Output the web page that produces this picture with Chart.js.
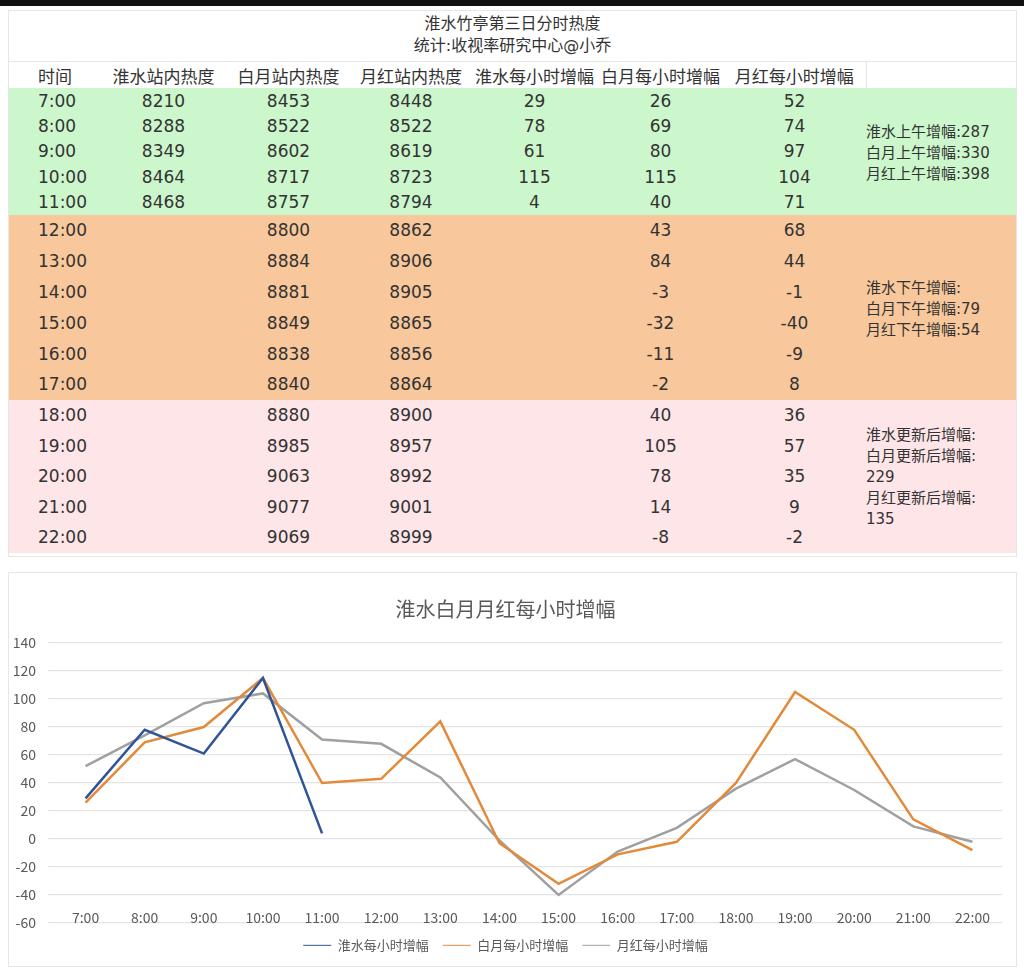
<!DOCTYPE html>
<html>
<head>
<meta charset="utf-8">
<script src="https://cdn.jsdelivr.net/npm/chart.js@4.4.1/dist/chart.umd.min.js"></script>
<style>
  html, body { margin: 0; padding: 0; background: #fff; }
  body { width: 1024px; height: 972px; position: relative; overflow: hidden;
         font-family: "DejaVu Sans", "Noto Sans CJK SC", sans-serif; color: #333; }
  #topbar { position: absolute; left: 0; top: 0; width: 1024px; height: 6px; background: #111; }
  #tableCard { position: absolute; left: 8px; top: 10px; width: 1007px; height: 545px;
               border: 1px solid #e6e6e6; background: #fff; }
  #heading { height: 48px; text-align: center; font-size: 16px; line-height: 22px; padding-top: 2px;
             border-bottom: 1px solid #e8e8e8; }
  table { border-collapse: collapse; width: 1007px; table-layout: fixed; font-size: 17px; }
  th { font-weight: normal; height: 26px; padding: 0; white-space: nowrap; }
  th.sep { border-right: 1px solid #e4e4e4; }
  td { padding: 0; text-align: center; white-space: nowrap; line-height: 20px; }
  td.t, th.t { text-align: left; padding-left: 29px; }
  tr.g td { background: #ccf7cc; height: 25.4px; }
  tr.o td { background: #f8c79b; height: 30.8px; }
  tr.p td { background: #fde5e8; height: 30.6px; }
  td.note { text-align: left; vertical-align: middle; font-size: 15px; line-height: 21px; padding-left: 0; }
  #chartCard { position: absolute; left: 8px; top: 572px; width: 1007px; height: 393px;
               border: 1px solid #e6e6e6; background: #fff; }
</style>
</head>
<body>
<div id="topbar"></div>
<div id="tableCard">
  <div id="heading">淮水竹亭第三日分时热度<br>统计:收视率研究中心@小乔</div>
  <table id="tbl"></table>
</div>
<div id="chartCard"><canvas id="myChart"></canvas></div>
<script>
// table + chart data
var headers = ['时间', '淮水站内热度', '白月站内热度', '月红站内热度', '淮水每小时增幅', '白月每小时增幅', '月红每小时增幅', ''];
var times = ['7:00', '8:00', '9:00', '10:00', '11:00', '12:00', '13:00', '14:00', '15:00', '16:00', '17:00', '18:00', '19:00', '20:00', '21:00', '22:00'];
var huaishuiHeat = [8210, 8288, 8349, 8464, 8468];
var baiyueHeat = [8453, 8522, 8602, 8717, 8757, 8800, 8884, 8881, 8849, 8838, 8840, 8880, 8985, 9063, 9077, 9069];
var yuehongHeat = [8448, 8522, 8619, 8723, 8794, 8862, 8906, 8905, 8865, 8856, 8864, 8900, 8957, 8992, 9001, 8999];
var huaishuiGain = [29, 78, 61, 115, 4];
var baiyueGain = [26, 69, 80, 115, 40, 43, 84, -3, -32, -11, -2, 40, 105, 78, 14, -8];
var yuehongGain = [52, 74, 97, 104, 71, 68, 44, -1, -40, -9, 8, 36, 57, 35, 9, -2];
var morningNotes = ['淮水上午增幅:287', '白月上午增幅:330', '月红上午增幅:398'];
var afternoonNotes = ['淮水下午增幅:', '白月下午增幅:79', '月红下午增幅:54'];
var eveningNotes = ['淮水更新后增幅:', '白月更新后增幅:', '229', '月红更新后增幅:', '135'];
var chartTitle = '淮水白月月红每小时增幅';
var seriesNames = ['淮水每小时增幅', '白月每小时增幅', '月红每小时增幅'];
var yTicks = [-60, -40, -20, 0, 20, 40, 60, 80, 100, 120, 140];

// build the table
var colWidths = [92, 125, 125, 120, 127, 125, 143, 150];
var html = '<colgroup>';
colWidths.forEach(function(w){ html += '<col style="width:' + w + 'px">'; });
html += '</colgroup><tr>';
headers.forEach(function(h, i){
  var c = i == 0 ? ' class="t"' : (i == 6 ? ' class="sep"' : '');
  html += '<th' + c + '>' + h + '</th>';
});
html += '</tr>';
function v(x){ return x === undefined ? '' : x; }
for (var i = 0; i < times.length; i++) {
  var cls = i < 5 ? 'g' : (i < 11 ? 'o' : 'p');
  html += '<tr class="' + cls + '">';
  html += '<td class="t">' + times[i] + '</td>';
  html += '<td>' + v(huaishuiHeat[i]) + '</td>';
  html += '<td>' + baiyueHeat[i] + '</td>';
  html += '<td>' + yuehongHeat[i] + '</td>';
  html += '<td>' + v(huaishuiGain[i]) + '</td>';
  html += '<td>' + baiyueGain[i] + '</td>';
  html += '<td>' + yuehongGain[i] + '</td>';
  if (i == 0) html += '<td class="note" rowspan="5" style="padding-top:5px">' + morningNotes.join('<br>') + '</td>';
  if (i == 5) html += '<td class="note" rowspan="6" style="padding-top:4px">' + afternoonNotes.join('<br>') + '</td>';
  if (i == 11) html += '<td class="note" rowspan="5" style="padding-top:2px">' + eveningNotes.join('<br>') + '</td>';
  html += '</tr>';
}
document.getElementById('tbl').innerHTML = html;

// push the legend down below the in-plot category labels
var legendShift = {
  id: 'legendShift',
  afterLayout: function(chart){
    chart.legend.top += 21;
    chart.legend.bottom += 21;
  }
};

// chart
var ctx = document.getElementById('myChart').getContext('2d');
var chart = new Chart(ctx, {
  type: 'line',
  data: {
    labels: times,
    datasets: [{
      label: seriesNames[0],
      data: huaishuiGain,
      borderColor: '#2f5597',
      backgroundColor: '#2f5597'
    }, {
      label: seriesNames[1],
      data: baiyueGain,
      borderColor: '#e38a3a',
      backgroundColor: '#e38a3a'
    }, {
      label: seriesNames[2],
      data: yuehongGain,
      borderColor: '#a0a0a0',
      backgroundColor: '#a0a0a0'
    }]
  },
  plugins: [legendShift],
  options: {
    responsive: true,
    maintainAspectRatio: false,
    animation: false,
    elements: {
      line: { borderWidth: 2.5, tension: 0 },
      point: { radius: 0 }
    },
    layout: { padding: { left: 0, right: 14, top: 0, bottom: 6 } },
    plugins: {
      title: {
        display: true,
        text: chartTitle,
        color: '#595959',
        font: { size: 20, family: '"Noto Sans CJK SC", sans-serif', weight: 'normal' },
        padding: { top: 24, bottom: 22 }
      },
      legend: {
        position: 'bottom',
        labels: {
          usePointStyle: true,
          pointStyle: 'line',
          pointStyleWidth: 28,
          color: '#595959',
          font: { size: 13, family: '"Noto Sans CJK SC", sans-serif' },
          padding: 14
        }
      },
      tooltip: { enabled: false }
    },
    scales: {
      x: {
        offset: true,
        grid: { display: false },
        border: { display: false },
        ticks: {
          color: '#595959',
          font: { size: 14, family: '"Noto Sans CJK SC", sans-serif' },
          maxRotation: 0,
          autoSkip: false,
          padding: -22
        }
      },
      y: {
        min: -60,
        max: 140,
        afterBuildTicks: function(scale){ scale.ticks = yTicks.map(function(t){ return { value: t }; }); },
        afterFit: function(scale){ scale.width = 47; },
        grid: { color: '#e3e3e3', lineWidth: 1.2 },
        border: { display: false },
        ticks: {
          color: '#595959',
          font: { size: 14, family: '"Noto Sans CJK SC", sans-serif' },
          padding: 12
        }
      }
    }
  }
});
</script>
</body>
</html>
